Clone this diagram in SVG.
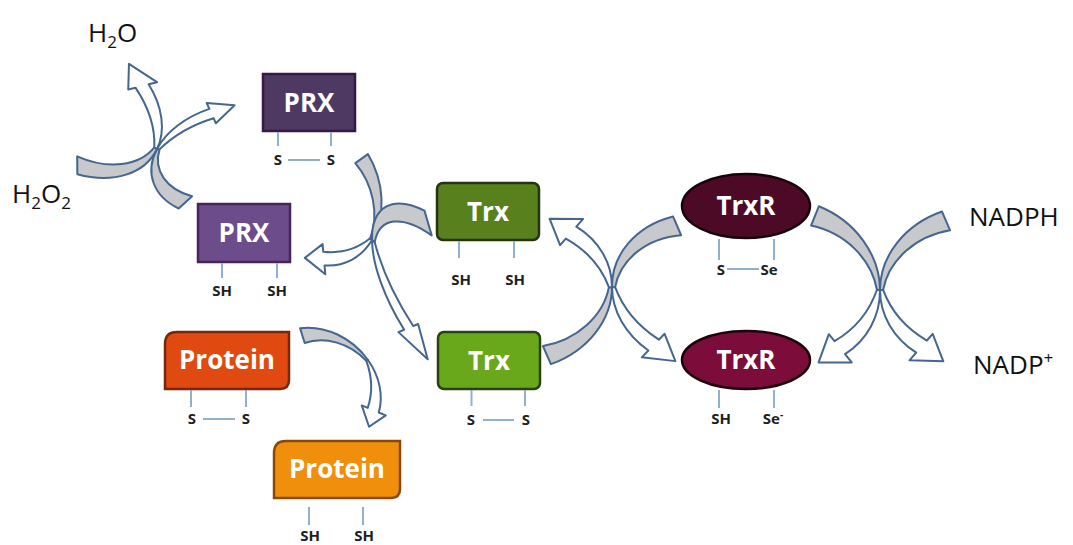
<svg xmlns="http://www.w3.org/2000/svg" xmlns:xlink="http://www.w3.org/1999/xlink" width="1073" height="545" viewBox="0 0 1073 545">
<style>
.tail{fill:#c8c9cc;stroke:#44668f;stroke-width:2;stroke-linejoin:round}
.head{fill:#ffffff;stroke:#44668f;stroke-width:2;stroke-linejoin:round}
.lbl{font-family:"Open Sans","Liberation Sans",sans-serif;font-weight:700;font-size:26px;fill:#ffffff;text-anchor:middle}
.site{font-family:"Open Sans","Liberation Sans",sans-serif;font-weight:700;font-size:15px;fill:#1e1e1e;text-anchor:middle}
.bond{stroke:#8fb0cf;stroke-width:2;fill:none}
.chem{font-family:"Open Sans","Liberation Sans",sans-serif;font-size:26px;fill:#111111}
</style>
<defs>
<g id="curved-arrow">
<path class="tail" vector-effect="non-scaling-stroke" d="M20.52,56.38 A60,60 0 0 0 60,0 L58,0 A51,51 0 0 1 15.39,42.29 Z"/>
<path class="head" vector-effect="non-scaling-stroke" d="M60,0 A60,60 0 0 0 36.94,-47.28 L41.25,-52.8 L19.68,-54.42 L26.47,-33.88 L30.17,-38.61 A75,75 0 0 1 58,0 Z"/>
</g>
</defs>
<rect width="1073" height="545" fill="#ffffff"/>
<g id="connectors">
<use href="#curved-arrow" transform="matrix(1.338,0.7744,-0.476,0.990,76.72,102.54)"/>
<use href="#curved-arrow" transform="matrix(-1.256,-0.1746,-0.495,0.933,232.36,159.48)"/>
<use href="#curved-arrow" transform="matrix(0.907,0.830,0.562,-0.943,317.58,190.2)"/>
<use href="#curved-arrow" transform="matrix(-1.356,-1.159,-0.019,-1.333,453.36,309.54)"/>
<use href="#curved-arrow" transform="matrix(0.823,-0.459,-0.629,-0.886,318.62,387.54)"/>
<use href="#curved-arrow" transform="matrix(1.548,-0.0782,0,1.314,519.12,291.69)"/>
<use href="#curved-arrow" transform="matrix(-1.559,-0.0771,-0.0095,-1.305,705.54,291.63)"/>
<use href="#curved-arrow" transform="matrix(1.536,0.1077,-0.0095,-1.410,787.84,283.54)"/>
<use href="#curved-arrow" transform="matrix(-1.571,0.0567,0,-1.352,974.26,286.6)"/>
</g>
<g id="h2o">
<text class="chem" x="88" y="42">H<tspan font-size="17" dy="6">2</tspan><tspan dy="-6">O</tspan></text>
</g>
<g id="h2o2">
<text class="chem" x="12" y="203">H<tspan font-size="17" dy="6">2</tspan><tspan dy="-6">O</tspan><tspan font-size="17" dy="6">2</tspan></text>
</g>
<g id="prx-ox">
<rect x="263" y="74" width="92" height="57" fill="#4d3962" stroke="#361a46" stroke-width="2.5"/>
<text class="lbl" x="309" y="112">PRX</text>
<line class="bond" x1="278" y1="132" x2="278" y2="146"/>
<line class="bond" x1="331" y1="132" x2="331" y2="146"/>
<line class="bond" x1="288" y1="160" x2="320" y2="160"/>
<text class="site" x="278" y="165">S</text>
<text class="site" x="331" y="165">S</text>
</g>
<g id="prx-red">
<rect x="198" y="204" width="92" height="58" fill="#6c4c8b" stroke="#48245e" stroke-width="2.5"/>
<text class="lbl" x="244" y="242">PRX</text>
<line class="bond" x1="222" y1="263" x2="222" y2="278"/>
<line class="bond" x1="277" y1="263" x2="277" y2="278"/>
<text class="site" x="222" y="296">SH</text>
<text class="site" x="277" y="296">SH</text>
</g>
<g id="trx-red">
<rect x="437" y="183" width="102" height="57" rx="6" fill="#58801c" stroke="#263510" stroke-width="2.5"/>
<text class="lbl" x="488" y="221">Trx</text>
<line class="bond" x1="459" y1="241" x2="459" y2="258"/>
<line class="bond" x1="514" y1="241" x2="514" y2="258"/>
<text class="site" x="461" y="285">SH</text>
<text class="site" x="515" y="285">SH</text>
</g>
<g id="trx-ox">
<rect x="438" y="332" width="102" height="57" rx="6" fill="#69a81a" stroke="#2b4210" stroke-width="2.5"/>
<text class="lbl" x="489" y="370">Trx</text>
<line class="bond" x1="471.5" y1="390" x2="471.5" y2="406"/>
<line class="bond" x1="525" y1="390" x2="525" y2="406"/>
<line class="bond" x1="483" y1="420" x2="514" y2="420"/>
<text class="site" x="471" y="425">S</text>
<text class="site" x="526" y="425">S</text>
</g>
<g id="trxr-ox">
<ellipse cx="746" cy="206" rx="64" ry="32" fill="#4d0a26" stroke="#17030a" stroke-width="2.5"/>
<text class="lbl" x="746" y="215">TrxR</text>
<line class="bond" x1="719" y1="239" x2="719" y2="260"/>
<line class="bond" x1="774" y1="239" x2="774" y2="260"/>
<line class="bond" x1="727" y1="269" x2="759" y2="269"/>
<text class="site" x="721" y="275">S</text>
<text class="site" x="769" y="275">Se</text>
</g>
<g id="trxr-red">
<ellipse cx="746" cy="360" rx="64" ry="29" fill="#7c0c3a" stroke="#1c030c" stroke-width="2.5"/>
<text class="lbl" x="746" y="369">TrxR</text>
<line class="bond" x1="719" y1="390" x2="719" y2="408"/>
<line class="bond" x1="774" y1="390" x2="774" y2="408"/>
<text class="site" x="721" y="424">SH</text>
<text class="site" x="773" y="424">Se<tspan font-size="10" dy="-6">-</tspan></text>
</g>
<g id="nadph">
<text class="chem" x="969" y="226" font-size="29">NADPH</text>
</g>
<g id="nadp">
<text class="chem" x="973" y="374" font-size="28">NADP<tspan font-size="17" dy="-10">+</tspan></text>
</g>
<g id="protein-ox">
<path d="M165,389 L165,344 Q165,332 177,332 L289,332 L289,380 Q289,389 280,389 Z" fill="#e04a10" stroke="#7a2608" stroke-width="2.5"/>
<text class="lbl" x="227" y="369" font-size="25">Protein</text>
<line class="bond" x1="191" y1="390" x2="191" y2="407"/>
<line class="bond" x1="246" y1="390" x2="246" y2="407"/>
<line class="bond" x1="203" y1="419" x2="235" y2="419"/>
<text class="site" x="192" y="424">S</text>
<text class="site" x="246" y="424">S</text>
</g>
<g id="protein-red">
<path d="M274,498 L274,453 Q274,441 286,441 L400,441 L400,489 Q400,498 391,498 Z" fill="#f08f0c" stroke="#8a4706" stroke-width="2.5"/>
<text class="lbl" x="337" y="478" font-size="25">Protein</text>
<line class="bond" x1="309" y1="507" x2="309" y2="525"/>
<line class="bond" x1="363" y1="507" x2="363" y2="525"/>
<text class="site" x="310" y="541">SH</text>
<text class="site" x="364" y="541">SH</text>
</g>
</svg>
